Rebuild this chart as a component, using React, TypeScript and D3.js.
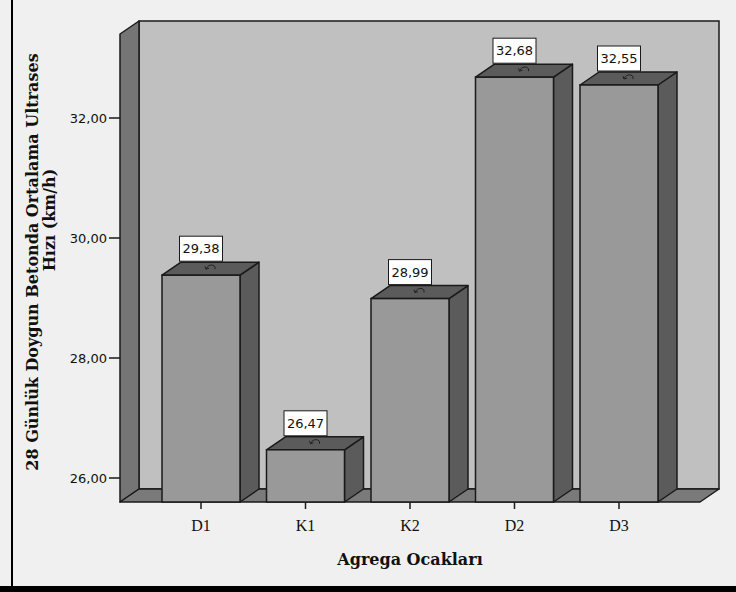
import React from "react";
import * as d3 from "d3";

// Mean 28-day ultrasonic pulse velocity by aggregate quarry
const categories = ["D1", "K1", "K2", "D2", "D3"];
const values = [29.38, 26.47, 28.99, 32.68, 32.55];
const valueLabels = ["29,38", "26,47", "28,99", "32,68", "32,55"];
const yTicks = [26, 28, 30, 32];
const yTickLabels = ["26,00", "28,00", "30,00", "32,00"];
const yTitleLines = ["28 Günlük Doygun Betonda Ortalama Ultrases", "Hızı (km/h)"];
const xTitle = "Agrega Ocakları";

const W = 736;
const H = 592;
// front plane of the 3D box
const FX0 = 120;
const FX1 = 700;
const FY0 = 34;
const FY1 = 502;
// depth offset toward the back wall
const DX = 19;
const DY = -13;

const STROKE = "#1a1a1a";
const SW = 1.5;

export default function App() {
  const y = d3.scaleLinear().domain([25.6, 33.4]).range([FY1, FY0]);
  const x = d3
    .scaleBand<string>()
    .domain(categories)
    .range([FX0, FX1])
    .paddingInner(0.2536)
    .paddingOuter(0.402);
  const bw = x.bandwidth();
  const pts = (p: [number, number][]) => p.map((q) => q.join(",")).join(" ");

  return (
    <svg
      width={W}
      height={H}
      style={{ position: "absolute", left: 0, top: 0, display: "block" }}
    >
      <rect x={0} y={0} width={W} height={H} fill="#f0f0f0" />

      {/* back wall */}
      <rect
        x={FX0 + DX}
        y={FY0 + DY}
        width={FX1 - FX0}
        height={FY1 - FY0}
        fill="#c0c0c0"
        stroke={STROKE}
        strokeWidth={SW}
      />
      {/* left wall */}
      <polygon
        points={pts([
          [FX0, FY0],
          [FX0 + DX, FY0 + DY],
          [FX0 + DX, FY1 + DY],
          [FX0, FY1],
        ])}
        fill="#757575"
        stroke={STROKE}
        strokeWidth={SW}
        strokeLinejoin="round"
      />
      {/* floor */}
      <polygon
        points={pts([
          [FX0, FY1],
          [FX0 + DX, FY1 + DY],
          [FX1 + DX, FY1 + DY],
          [FX1, FY1],
        ])}
        fill="#7a7a7a"
        stroke={STROKE}
        strokeWidth={SW}
        strokeLinejoin="round"
      />

      {/* bars */}
      {categories.map((c, i) => {
        const x0 = x(c)!;
        const x1 = x0 + bw;
        const yt = y(values[i]);
        const cx = x0 + bw / 2;
        const boxW = 43;
        const boxH = 25;
        const boxBottom = yt + DY - 1;
        return (
          <g key={c}>
            <polygon
              points={pts([
                [x1, yt],
                [x1 + DX, yt + DY],
                [x1 + DX, FY1 + DY],
                [x1, FY1],
              ])}
              fill="#5b5b5b"
              stroke={STROKE}
              strokeWidth={SW}
              strokeLinejoin="round"
            />
            <polygon
              points={pts([
                [x0, yt],
                [x0 + DX, yt + DY],
                [x1 + DX, yt + DY],
                [x1, yt],
              ])}
              fill="#5b5b5b"
              stroke={STROKE}
              strokeWidth={SW}
              strokeLinejoin="round"
            />
            <rect
              x={x0}
              y={yt}
              width={bw}
              height={FY1 - yt}
              fill="#999999"
              stroke={STROKE}
              strokeWidth={SW}
            />
            {/* label leader hook */}
            <path
              d={`M${cx + 5},${yt - 6} q2,-5 7,-4 q3,1 2,4 M${cx + 5},${yt - 6} l-1,-3 M${cx + 5},${yt - 6} l3,-1`}
              fill="none"
              stroke="#222"
              strokeWidth={1}
            />
            <rect
              x={cx - boxW / 2}
              y={boxBottom - boxH}
              width={boxW}
              height={boxH}
              fill="#ffffff"
              stroke={STROKE}
              strokeWidth={1}
            />
            <text
              x={cx}
              y={boxBottom - boxH / 2}
              textAnchor="middle"
              dominantBaseline="central"
              fontFamily="DejaVu Sans"
              fontSize={13}
              fill="#111"
            >
              {valueLabels[i]}
            </text>
            {/* category tick */}
            <line x1={cx} x2={cx} y1={FY1} y2={FY1 + 7} stroke={STROKE} strokeWidth={SW} />
            <text
              x={cx}
              y={525}
              textAnchor="middle"
              dominantBaseline="central"
              fontFamily="Liberation Serif"
              fontSize={16}
              fill="#111"
            >
              {c}
            </text>
          </g>
        );
      })}

      {/* y axis ticks */}
      {yTicks.map((t, i) => (
        <g key={t}>
          <line x1={FX0 - 11} x2={FX0} y1={y(t)} y2={y(t)} stroke={STROKE} strokeWidth={SW} />
          <text
            x={FX0 - 13}
            y={y(t)}
            textAnchor="end"
            dominantBaseline="central"
            fontFamily="DejaVu Sans"
            fontSize={13}
            fill="#111"
          >
            {yTickLabels[i]}
          </text>
        </g>
      ))}

      {/* axis titles */}
      <text
        transform="translate(32,262) rotate(-90)"
        textAnchor="middle"
        dominantBaseline="central"
        fontFamily="DejaVu Serif"
        fontWeight="bold"
        fontSize={16}
        fill="#111"
      >
        {yTitleLines[0]}
      </text>
      <text
        transform="translate(49,220) rotate(-90)"
        textAnchor="middle"
        dominantBaseline="central"
        fontFamily="DejaVu Serif"
        fontWeight="bold"
        fontSize={16}
        fill="#111"
      >
        {yTitleLines[1]}
      </text>
      <text
        x={410}
        y={559}
        textAnchor="middle"
        dominantBaseline="central"
        fontFamily="DejaVu Serif"
        fontWeight="bold"
        fontSize={16}
        fill="#111"
      >
        {xTitle}
      </text>

      {/* frame */}
      <line x1={12} x2={12} y1={0} y2={H} stroke="#000" strokeWidth={2} />
      <rect x={0} y={586} width={W} height={H - 586} fill="#000" />
    </svg>
  );
}
